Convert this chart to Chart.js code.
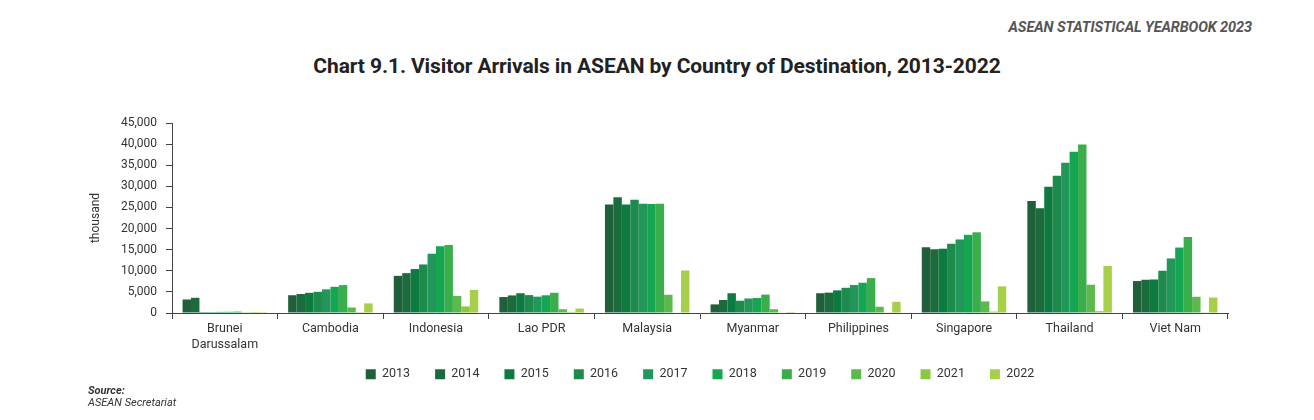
<!DOCTYPE html>
<html>
<head>
<meta charset="utf-8">
<script src="https://cdn.jsdelivr.net/npm/chart.js@4.4.1/dist/chart.umd.min.js"></script>
<style>
  html, body { margin: 0; padding: 0; background: #fff; }
  body { width: 1314px; height: 420px; position: relative; overflow: hidden; font-family: Roboto, "Noto Sans", sans-serif; }
  #c { position: absolute; left: 0; top: 0; }
  .hdr { position: absolute; right: 62px; top: 19px; font: italic 700 14.5px Roboto, sans-serif; color: #555; letter-spacing: -0.1px; }
  .ttl { position: absolute; left: 0; width: 1314px; top: 54px; text-align: center; font: 700 21px Roboto, sans-serif; color: #222; letter-spacing: -0.1px; }
  .src { position: absolute; left: 88px; top: 385px; font: italic 11px Roboto, sans-serif; color: #333; line-height: 12px; }
  .src b { font-weight: 700; }
</style>
</head>
<body>
<div class="hdr">ASEAN STATISTICAL YEARBOOK 2023</div>
<div class="ttl">Chart 9.1. Visitor Arrivals in ASEAN by Country of Destination, 2013-2022</div>
<canvas id="c" width="1314" height="420"></canvas>
<div class="src"><b>Source:</b><br>ASEAN Secretariat</div>
<script>
// Countries (category labels)
const countries = [["Brunei", "Darussalam"], "Cambodia", "Indonesia", "Lao PDR", "Malaysia", "Myanmar", "Philippines", "Singapore", "Thailand", "Viet Nam"];
// Years (series)
const years = ["2013", "2014", "2015", "2016", "2017", "2018", "2019", "2020", "2021", "2022"];
// Visitor arrivals in thousand, per year, order of countries above
const v2013 = [3200, 4210, 8800, 3780, 25700, 2040, 4680, 15570, 26550, 7570];
const v2014 = [3600, 4500, 9440, 4160, 27400, 3080, 4830, 15100, 24810, 7870];
const v2015 = [220, 4780, 10400, 4680, 25700, 4680, 5360, 15230, 29920, 7940];
const v2016 = [220, 5010, 11500, 4240, 26800, 2910, 5970, 16400, 32530, 10010];
const v2017 = [260, 5600, 14040, 3870, 25900, 3440, 6620, 17420, 35590, 12920];
const v2018 = [280, 6200, 15810, 4190, 25800, 3550, 7170, 18510, 38180, 15500];
const v2019 = [330, 6610, 16110, 4790, 25900, 4360, 8260, 19110, 39920, 18000];
const v2020 = [55, 1310, 4050, 890, 4330, 900, 1480, 2740, 6700, 3840];
const v2021 = [5, 200, 1560, 10, 130, 130, 160, 330, 430, 160];
const v2022 = [25, 2280, 5470, 1050, 10070, 230, 2650, 6310, 11150, 3660];
// Y axis ticks
const yMin = 0, yMax = 45000, yStep = 5000;
const yTitle = "thousand";

const seriesValues = [v2013, v2014, v2015, v2016, v2017, v2018, v2019, v2020, v2021, v2022];
const colors = ["#1f5f3a", "#1c6b3c", "#0d7a3f", "#1e8a4c", "#23975a", "#14a651", "#3aae4a", "#5db94d", "#8dc641", "#a6cf4a"];

const datasets = years.map((y, i) => ({
  label: y,
  data: seriesValues[i],
  backgroundColor: colors[i],
  borderWidth: 0,
  categoryPercentage: 0.8,
  barPercentage: 1.0,
  yAxisID: 'y'
}));

// shift the legend row up so it sits right below the category labels
const legendShift = {
  id: 'legendShift',
  afterLayout(chart) {
    const lg = chart.legend;
    if (lg) { lg.top -= 10; lg.bottom -= 10; }
  }
};

const axisColor = '#444';
new Chart(document.getElementById('c'), {
  type: 'bar',
  data: { labels: countries, datasets },
  plugins: [legendShift],
  options: {
    responsive: false,
    animation: false,
    devicePixelRatio: 1,
    layout: { padding: { top: 123, left: 86, right: 0, bottom: 19.5 } },
    plugins: {
      title: { display: false },
      tooltip: { enabled: false },
      legend: {
        position: 'bottom',
        labels: {
          boxWidth: 10, boxHeight: 10, padding: 25,
          color: '#333',
          font: { family: 'Roboto', size: 12.5 }
        }
      }
    },
    scales: {
      x: {
        grid: { display: true, drawOnChartArea: false, drawTicks: true, tickLength: 6, color: axisColor, offset: true },
        border: { display: true, color: axisColor, width: 1 },
        ticks: { color: '#333', padding: 2, maxRotation: 0, autoSkip: false, font: { family: 'Roboto', size: 12.5, lineHeight: 1.28 } },
        afterFit: (s) => { s.height = 40; }
      },
      y: {
        position: 'left',
        min: yMin, max: yMax,
        grid: { display: true, drawOnChartArea: false, drawTicks: true, tickLength: 6, color: axisColor },
        border: { display: true, color: axisColor, width: 1 },
        ticks: { stepSize: yStep, color: '#333', padding: 9, font: { family: 'Roboto', size: 12 },
          callback: (v) => v.toLocaleString('en-US') },
        title: { display: true, text: yTitle, color: '#333', padding: { top: 3, bottom: 0 }, font: { family: 'Roboto', size: 12 } },
        afterFit: (s) => { s.width = 86; }
      },
      yr: {
        position: 'right',
        display: true,
        grid: { display: false },
        border: { display: false },
        ticks: { display: false },
        afterFit: (s) => { s.width = 86; }
      }
    }
  }
});
</script>
</body>
</html>
